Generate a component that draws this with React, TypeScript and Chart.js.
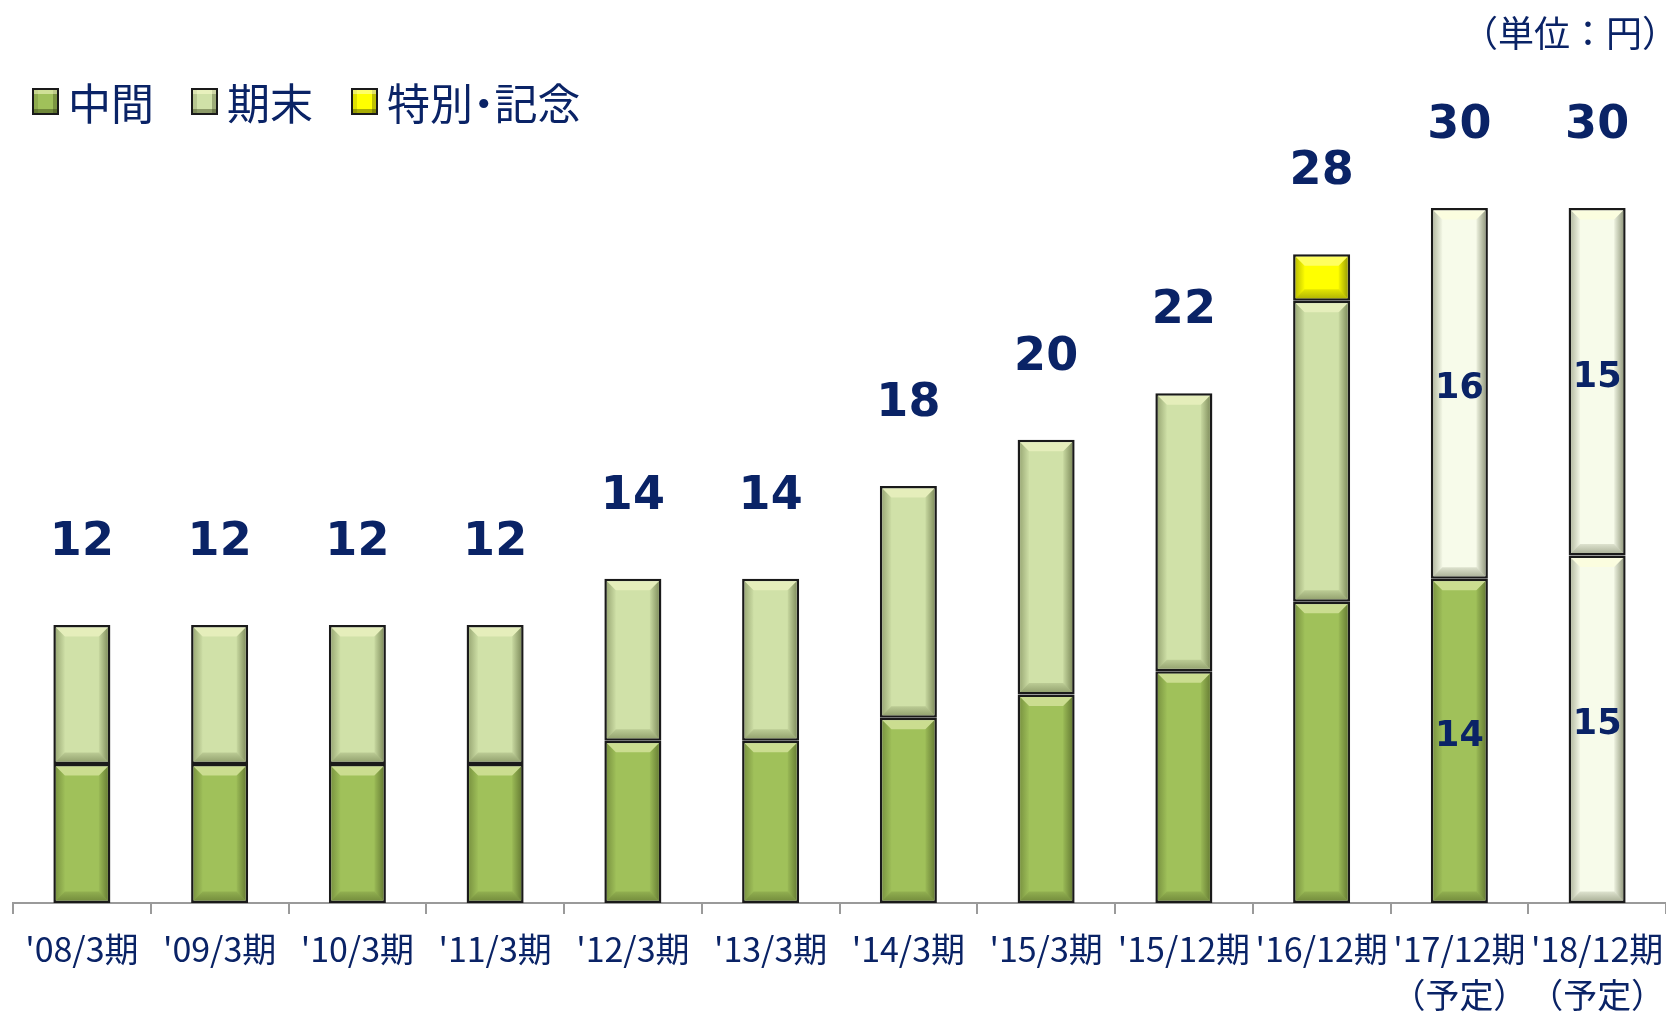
import React, { useEffect, useRef } from 'react';
import { Chart, registerables } from 'chart.js';

Chart.register(...registerables);

const categories = ["'08/3期", "'09/3期", "'10/3期", "'11/3期", "'12/3期", "'13/3期", "'14/3期", "'15/3期", "'15/12期", "'16/12期", "'17/12期", "'18/12期"];
const categoryNotes = ['', '', '', '', '', '', '', '', '', '', '（予定）', '（予定）'];
const interim = [6, 6, 6, 6, 7, 7, 8, 9, 10, 13, 14, 15];
const yearEnd = [6, 6, 6, 6, 7, 7, 10, 11, 12, 13, 16, 15];
const special = [null, null, null, null, null, null, null, null, null, 2, null, null];
const interimPlanned = [false, false, false, false, false, false, false, false, false, false, false, true];
const yearEndPlanned = [false, false, false, false, false, false, false, false, false, false, true, true];
const showBreakdown = [false, false, false, false, false, false, false, false, false, false, true, true];
const seriesNames = ['中間', '期末', '特別・記念'];

const NAVY = '#0a2366';
const GREEN = '#a0c15a';
const LIGHT = '#d0e1a8';
const PALE = '#f7fbea';
const YELLOW = '#ffff00';
const CJK = '"Noto Sans CJK JP", "Noto Sans", sans-serif';

const poly = (ctx: CanvasRenderingContext2D, pts: number[]) => {
  ctx.beginPath();
  ctx.moveTo(pts[0], pts[1]);
  for (let k = 2; k < pts.length; k += 2) ctx.lineTo(pts[k], pts[k + 1]);
  ctx.closePath();
  ctx.fill();
};

const decorPlugin = {
  id: 'decor',
  afterDatasetsDraw(chart: any) {
    const ctx: CanvasRenderingContext2D = chart.ctx;
    ctx.save();
    chart.data.datasets.forEach((ds: any, di: number) => {
      const meta = chart.getDatasetMeta(di);
      meta.data.forEach((bar: any, i: number) => {
        if (ds.data[i] == null) return;
        const p = bar.getProps(['x', 'y', 'base', 'width'], true);
        const bw = 2.5;
        const b = 9;
        const l = p.x - p.width / 2 + bw;
        const r = p.x + p.width / 2 - bw;
        const t = Math.min(p.y, p.base) + bw;
        const bt = Math.max(p.y, p.base) - bw;
        ctx.fillStyle = 'rgba(255,255,210,0.45)';
        poly(ctx, [l, t, r, t, r - b, t + b, l + b, t + b]);
        const gb = ctx.createLinearGradient(0, bt - b, 0, bt);
        gb.addColorStop(0, 'rgba(40,50,10,0.12)');
        gb.addColorStop(1, 'rgba(40,50,10,0.35)');
        ctx.fillStyle = gb;
        poly(ctx, [l, bt, r, bt, r - b, bt - b, l + b, bt - b]);
        const gr = ctx.createLinearGradient(r - b, 0, r, 0);
        gr.addColorStop(0, 'rgba(40,50,10,0.05)');
        gr.addColorStop(1, 'rgba(40,50,10,0.45)');
        ctx.fillStyle = gr;
        poly(ctx, [r, t, r, bt, r - b, bt - b, r - b, t + b]);
        const gl = ctx.createLinearGradient(l, 0, l + b, 0);
        gl.addColorStop(0, 'rgba(40,50,10,0.3)');
        gl.addColorStop(1, 'rgba(40,50,10,0.02)');
        ctx.fillStyle = gl;
        poly(ctx, [l, t, l, bt, l + b, bt - b, l + b, t + b]);
      });
    });
    ctx.fillStyle = NAVY;
    ctx.textAlign = 'center';
    ctx.textBaseline = 'middle';
    const n = chart.data.labels.length;
    for (let i = 0; i < n; i++) {
      let total = 0;
      let topY = Infinity;
      let cx = 0;
      chart.data.datasets.forEach((ds: any, di: number) => {
        const v = ds.data[i];
        if (v == null) return;
        total += v;
        const el = chart.getDatasetMeta(di).data[i];
        topY = Math.min(topY, el.y);
        cx = el.x;
      });
      ctx.font = 'bold 46px "DejaVu Sans", sans-serif';
      ctx.fillText(String(total), cx, topY - 82);
      if (showBreakdown[i]) {
        ctx.font = 'bold 35px "DejaVu Sans", sans-serif';
        [0, 1].forEach((di) => {
          const el = chart.getDatasetMeta(di).data[i];
          const v = chart.data.datasets[di].data[i];
          ctx.fillText(String(v), el.x, (el.y + el.base) / 2 - 4);
        });
      }
    }
    ctx.restore();
  },
};

export default function App() {
  const ref = useRef<HTMLCanvasElement>(null);

  useEffect(() => {
    if (!ref.current) return;
    const common = {
      categoryPercentage: 1,
      barPercentage: 0.414,
      borderWidth: 2.5,
      borderColor: '#1a1a1a',
      borderSkipped: false,
    };
    const chart = new Chart(ref.current, {
      type: 'bar',
      data: {
        labels: categories.map((c, i) => (categoryNotes[i] ? [c, categoryNotes[i]] : c)),
        datasets: [
          { ...common, label: seriesNames[0], data: interim, backgroundColor: interimPlanned.map((p) => (p ? PALE : GREEN)) },
          { ...common, label: seriesNames[1], data: yearEnd, backgroundColor: yearEndPlanned.map((p) => (p ? PALE : LIGHT)) },
          { ...common, label: seriesNames[2], data: special as any, backgroundColor: YELLOW },
        ],
      },
      options: {
        responsive: false,
        animation: false,
        layout: { padding: { left: 13, right: 0, top: 69, bottom: 0 } },
        plugins: { legend: { display: false }, tooltip: { enabled: false } },
        scales: {
          x: {
            stacked: true,
            offset: true,
            grid: { offset: true, drawOnChartArea: false, drawTicks: true, tickLength: 11, color: '#9a9a9a', lineWidth: 2 },
            border: { display: true, color: '#9a9a9a', width: 2 },
            ticks: {
              color: NAVY,
              font: { family: CJK, size: 34, lineHeight: 1.35 },
              padding: 12,
              maxRotation: 0,
              autoSkip: false,
            },
            afterFit: (s: any) => {
              s.height = 112;
              s.paddingLeft = 0;
              s.paddingRight = 0;
            },
          },
          y: { stacked: true, display: false, min: 0, max: 36 },
        },
      },
      plugins: [decorPlugin],
    });
    return () => chart.destroy();
  }, []);

  const legendColors = [GREEN, LIGHT, YELLOW];
  const legendLeft = [32, 191, 351];

  return (
    <div style={{ position: 'fixed', left: 0, top: 0, width: 1666, height: 1015, background: '#fff', overflow: 'hidden' }}>
      <canvas ref={ref} width={1666} height={1015} style={{ position: 'absolute', left: 0, top: 0 }} />
      {seriesNames.map((name, i) => (
        <div
          key={name}
          style={{
            position: 'absolute',
            left: legendLeft[i],
            top: 78,
            height: 46,
            display: 'flex',
            alignItems: 'center',
            gap: 9,
            fontFamily: CJK,
            fontSize: 43,
            color: NAVY,
            lineHeight: 1,
          }}
        >
          <span
            style={{
              display: 'inline-block',
              width: 23,
              height: 23,
              background: legendColors[i],
              border: '2px solid #1a1a1a',
              boxShadow: 'inset 0 4px 0 rgba(255,255,210,0.5), inset 0 -4px 0 rgba(40,50,10,0.4), inset -4px 0 0 rgba(40,50,10,0.3), inset 4px 0 0 rgba(40,50,10,0.15)',
            }}
          />
          <span style={{ fontFeatureSettings: '"palt"' }}>{name}</span>
        </div>
      ))}
      <div
        style={{
          position: 'absolute',
          right: -12,
          top: 10,
          fontFamily: CJK,
          fontSize: 36,
          color: NAVY,
          lineHeight: 1.2,
          whiteSpace: 'nowrap',
        }}
      >
        （単位：円）
      </div>
    </div>
  );
}
